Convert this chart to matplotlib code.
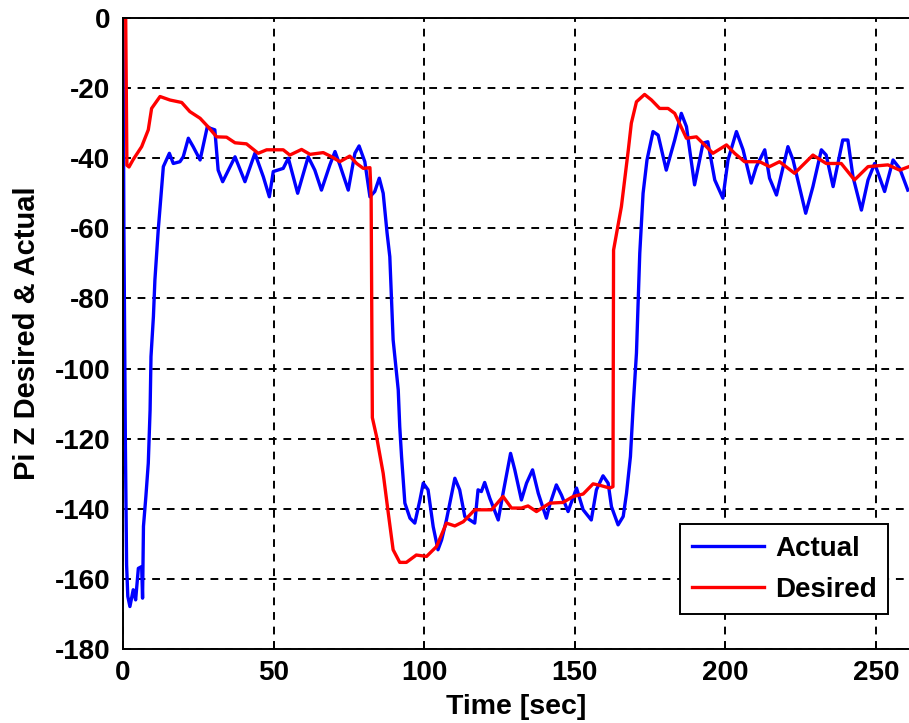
import numpy as np
import matplotlib
matplotlib.use('Agg')
import matplotlib.pyplot as plt

plt.rcParams['font.family'] = ['Liberation Sans', 'DejaVu Sans']
plt.rcParams['font.weight'] = 'bold'
plt.rcParams['axes.unicode_minus'] = False

# Actual response (time, value)
t_act = [0, 0.3, 0.8, 1.2, 1.6, 2.3, 3.4, 4.2, 5.1, 6.2, 6.5, 6.8, 7.6, 8.4, 9.0, 9.3, 10.1,
         10.6, 11.7, 12.5, 13.4, 15.4, 16.7, 18.9, 20.0, 21.7, 23.3, 25.6, 28.0, 29.1, 30.5,
         31.6, 33.1, 37.2, 40.5, 43.8, 46.6, 48.6, 49.9, 53.2, 54.9, 58.0, 61.5, 63.7, 65.9,
         68.7, 70.4, 72.0, 74.8, 77.0, 78.4, 80.3, 82.0, 83.6, 85.1, 86.4, 87.7, 88.6, 89.7,
         91.4, 91.9, 92.5, 93.6, 95.3, 96.9, 98.6, 99.7, 101.3, 103.0, 104.6, 105.8, 107.4,
         110.2, 111.8, 113.5, 115.2, 116.8, 117.9, 119.0, 120.1, 121.8, 124.6, 126.2, 128.7,
         130.1, 132.3, 134.0, 136.0, 137.9, 140.6, 141.7, 143.9, 145.6, 147.8, 150.6, 152.8,
         155.5, 157.2, 159.4, 161.1, 162.2, 164.4, 166.1, 167.2, 168.5, 169.4, 170.5, 171.6,
         172.7, 174.0, 176.0, 177.7, 180.4, 183.2, 185.4, 187.1, 189.8, 192.6, 194.2, 196.5,
         199.2, 200.9, 203.7, 205.9, 208.6, 210.3, 213.1, 214.7, 217.0, 220.8, 222.5, 226.7,
         229.1, 231.9, 233.5, 235.8, 239.0, 240.7, 242.4, 245.2, 247.4, 249.6, 252.9, 255.7,
         257.9, 260.6]
y_act = [0, -60, -122, -156, -165, -167.9, -163.1, -166, -157, -156.5, -165.5, -145, -136.5,
         -127, -111.8, -96.6, -85.2, -74.7, -60.5, -51.9, -42.4, -38.6, -41.5, -41, -39.6,
         -34.3, -36.7, -40.5, -31, -31.5, -31.9, -43.4, -46.7, -39.6, -46.7, -38.6, -45.3,
         -51, -43.8, -42.9, -40, -50, -39.6, -43.4, -49.1, -41.9, -38.1, -41.9, -49.1, -38.6,
         -36.5, -41, -51, -49.5, -45.7, -50, -61.4, -68.1, -91.8, -106.1, -116.6, -125.1,
         -138.4, -142.7, -144.1, -137.5, -132.7, -134.6, -145.1, -151.7, -148.9, -143.2,
         -131.3, -134.6, -142.2, -143.2, -144.1, -134.6, -135.1, -132.5, -137, -143.2, -135.6,
         -124.2, -128.9, -137.5, -132.7, -128.9, -135.6, -142.7, -138.9, -133.2, -136.1,
         -140.8, -134.1, -140.3, -143.2, -134.6, -130.6, -132.7, -139.4, -144.6, -142.2,
         -135.6, -125.1, -110.9, -95.6, -67.1, -50, -40.5, -32.4, -33.4, -43.4, -34.8, -27.2,
         -31, -47.6, -35.7, -35.3, -46.2, -51.4, -40.5, -32.4, -37.6, -47.1, -42.4, -37.6,
         -45.7, -50.5, -36.7, -40.5, -55.7, -48.1, -37.6, -39.1, -48.1, -34.8, -34.8, -45.3,
         -54.8, -46.2, -41.5, -49.5, -40.5, -42.9, -49.1]

# Desired response
t_des = [0, 0.9, 1.3, 2.0, 3.3, 6.2, 8.4, 9.5, 12.3, 15.6, 19.5, 22.2, 25.6, 28.2, 31.1, 34.4,
         37.2, 41.0, 44.9, 47.7, 53.2, 55.4, 59.3, 62.1, 66.5, 69.3, 72.0, 75.3, 77.6, 79.8,
         82.0, 82.4, 82.8, 84.2, 86.4, 88.1, 89.7, 91.9, 94.1, 97.4, 100.8, 104.1, 107.4,
         110.2, 113.0, 116.8, 122.4, 126.2, 129.0, 132.3, 134.5, 137.3, 141.7, 146.1, 149.5,
         152.8, 156.1, 158.3, 161.6, 162.7, 162.9, 165.5, 167.8, 168.8, 170.5, 173.2, 175.5,
         178.2, 181.0, 183.2, 187.1, 190.4, 193.7, 195.9, 200.4, 203.1, 206.4, 211.4, 214.7,
         218.0, 223.0, 229.1, 233.5, 238.5, 242.9, 247.4, 254.0, 257.9, 261.0]
y_des = [0, 0, -42, -42.5, -40.5, -36.7, -31.9, -25.8, -22.4, -23.4, -24.1, -26.7, -28.6, -31,
         -33.9, -34, -35.6, -35.9, -38.6, -37.6, -37.6, -39.1, -37.5, -38.9, -38.4, -39.6, -41,
         -39.4, -41.5, -42.9, -42.7, -51, -114, -119.4, -129.9, -141.3, -151.7, -155.3, -155.3,
         -153.2, -153.6, -150.8, -144.1, -144.9, -143.7, -140.3, -140.3, -136.5, -139.8,
         -139.8, -139.2, -140.8, -138.4, -138.2, -136.5, -135.8, -132.9, -133.3, -134.1,
         -133.7, -66.2, -53.8, -37.6, -30, -23.9, -21.8, -23.4, -25.8, -25.8, -27.2, -34.3,
         -33.9, -36.7, -38.6, -36.2, -38.6, -41, -41, -42.4, -41, -44.3, -39.1, -41.5, -41.5,
         -46.2, -42.4, -41.9, -43.4, -42.4]

fig = plt.figure(figsize=(9.09, 7.23), dpi=100)
ax = fig.add_axes([0.1353, 0.1024, 0.8647, 0.8727])

ax.plot(t_act, y_act, color='#0000ff', lw=2.4, label='Actual')
ax.plot(t_des, y_des, color='#ff0000', lw=2.4, label='Desired')

ax.set_xlim(0, 261)
ax.set_ylim(-180, 0)
ax.set_xticks([0, 50, 100, 150, 200, 250])
ax.set_yticks(np.arange(-180, 1, 20))
ax.grid(True, color='black', linestyle=(0, (4, 3.5)), linewidth=1.4)
ax.tick_params(direction='in', labelsize=20, length=6, width=1.2)
ax.tick_params(axis='y', pad=9)
ax.tick_params(axis='x', pad=8)
for lbl in ax.get_xticklabels() + ax.get_yticklabels():
    lbl.set_fontweight('bold')
for s in ax.spines.values():
    s.set_linewidth(1.4)
ax.spines['right'].set_visible(False)

ax.set_xlabel('Time [sec]', fontsize=20.5, fontweight='bold', labelpad=6)
ax.set_ylabel('Pi Z Desired & Actual', fontsize=21, fontweight='bold', labelpad=10)

leg = ax.legend(loc='lower right', bbox_to_anchor=(0.973, 0.0555), borderaxespad=0,
                fancybox=False, edgecolor='black', framealpha=1,
                prop={'size': 20, 'weight': 'bold'},
                handlelength=2.6, handletextpad=0.4, borderpad=0.4, labelspacing=0.55)
leg.get_frame().set_linewidth(1.4)

fig.savefig('out.png', dpi=100)
